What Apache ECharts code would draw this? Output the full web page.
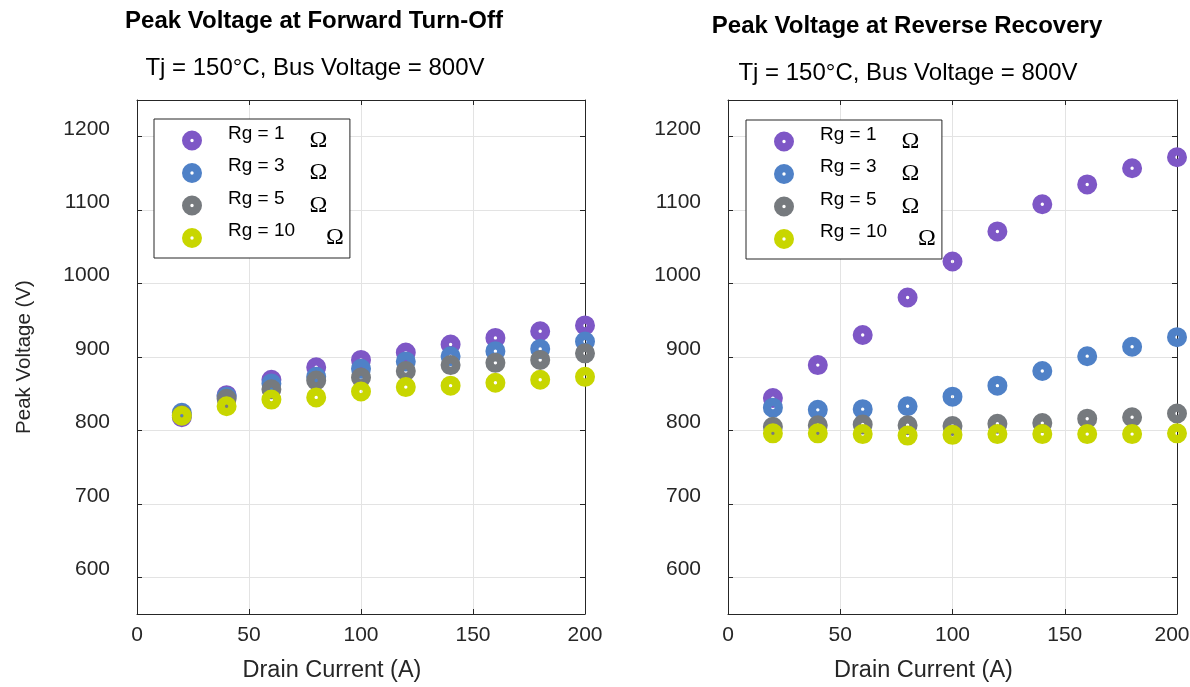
<!DOCTYPE html>
<html>
<head>
<meta charset="utf-8">
<script src="https://cdn.jsdelivr.net/npm/echarts@6/dist/echarts.min.js"></script>
<style>
  html, body { margin: 0; padding: 0; background: #fff; }
  #main { width: 1190px; height: 687px; }
</style>
</head>
<body>
<div id="main"></div>
<script>
  // drain current (A)
  const current = [20, 40, 60, 80, 100, 120, 140, 160, 180, 200];
  const gateRes = ['Rg = 1', 'Rg = 3', 'Rg = 5', 'Rg = 10'];
  const colors = ['#7e57c6', '#4f81c7', '#767a7e', '#c8d600'];

  // peak voltage at forward turn-off (V)
  const fwdRg1 = [818, 848, 869, 886, 896, 906, 917, 926, 935, 943];
  const fwdRg3 = [824, 846, 864, 873, 884, 894, 901, 908, 911, 921];
  const fwdRg5 = [821, 843, 856, 868, 872, 881, 889, 892, 896, 905];
  const fwdRg10 = [820, 833, 842, 845, 853, 859, 861, 865, 869, 873];

  // peak voltage at reverse recovery (V)
  const revRg1 = [844, 889, 930, 981, 1030, 1071, 1108, 1135, 1157, 1172];
  const revRg3 = [831, 828, 829, 833, 846, 861, 881, 901, 914, 927];
  const revRg5 = [805, 807, 808, 807, 806, 809, 810, 816, 818, 823];
  const revRg10 = [796, 796, 795, 793, 794, 795, 795, 795, 795, 796];

  const xTicks = [0, 50, 100, 150, 200];
  const yTicks = [600, 700, 800, 900, 1000, 1100, 1200];

  const font = 'Liberation Sans, Arial, sans-serif';
  const axisCol = '#262626';
  // filled disc with a small hole in the middle
  const ring = 'path://M10 0A10 10 0 1 1 10 20A10 10 0 1 1 10 0ZM10 8.3A1.7 1.7 0 1 0 10 11.7A1.7 1.7 0 1 0 10 8.3Z';

  function pairs(vals) {
    return current.map((c, i) => [c, vals[i]]);
  }

  function makeSeries(sets, axisIdx) {
    return sets.map((vals, i) => ({
      name: gateRes[i],
      type: 'scatter',
      xAxisIndex: axisIdx,
      yAxisIndex: axisIdx,
      symbol: ring,
      symbolSize: 20,
      itemStyle: { color: colors[i], opacity: 1 },
      emphasis: { disabled: true },
      data: pairs(vals)
    }));
  }

  function xAx(grid, pos, withLabels, squeezeLast) {
    return {
      type: 'value', gridIndex: grid, position: pos, min: 0, max: 200, interval: 50,
      axisLine: { show: true, onZero: false, lineStyle: { color: axisCol } },
      axisTick: { show: true, inside: true, length: 5, customValues: xTicks, lineStyle: { color: axisCol } },
      axisLabel: {
        show: withLabels, customValues: xTicks, fontFamily: font, fontSize: 21, color: axisCol, margin: 11,
        formatter: v => (squeezeLast && v === 200) ? '{m|200}' : String(v),
        rich: { m: { fontFamily: font, fontSize: 21, color: axisCol, padding: [0, 10, 0, 0] } }
      },
      splitLine: { show: withLabels, lineStyle: { color: '#e3e3e3' } },
      name: withLabels ? 'Drain Current (A)' : '',
      nameLocation: 'middle', nameGap: 45,
      nameTextStyle: { fontFamily: font, fontSize: 23.5, color: axisCol, padding: [0, 58, 0, 0] }
    };
  }

  function yAx(grid, pos, withLabels, title) {
    return {
      type: 'value', gridIndex: grid, position: pos, min: 550, max: 1250,
      axisLine: { show: true, onZero: false, lineStyle: { color: axisCol } },
      axisTick: { show: true, inside: true, length: 5, customValues: yTicks, lineStyle: { color: axisCol } },
      axisLabel: {
        show: withLabels, customValues: yTicks, formatter: v => String(v),
        fontFamily: font, fontSize: 21, color: axisCol, margin: 27,
        verticalAlign: 'bottom', lineHeight: 16
      },
      splitLine: { show: withLabels, lineStyle: { color: '#e3e3e3' } },
      name: title || '',
      nameLocation: 'middle', nameGap: 102,
      nameTextStyle: { fontFamily: font, fontSize: 20.5, color: axisCol }
    };
  }

  function legendAt(left, top) {
    return {
      left: left, top: top, orient: 'vertical',
      data: gateRes,
      icon: ring,
      backgroundColor: '#fff', borderColor: axisCol, borderWidth: 1,
      padding: [5, 6, 8, 28],
      itemWidth: 20, itemHeight: 20, itemGap: 4,
      selectedMode: false,
      formatter: name => '{t|' + name + '}' + (name === 'Rg = 10' ? '{o2|Ω}' : '{o|Ω}'),
      textStyle: {
        rich: {
          t: { fontFamily: font, fontSize: 19, color: '#000', lineHeight: 19, verticalAlign: 'top', padding: [0, 0, 0, 21] },
          o: { fontFamily: 'Liberation Serif, serif', fontSize: 24, color: '#000', lineHeight: 33, padding: [0, 0, 0, 25] },
          o2: { fontFamily: 'Liberation Serif, serif', fontSize: 24, color: '#000', lineHeight: 33, padding: [0, 0, 0, 31] }
        }
      }
    };
  }

  const chart = echarts.init(document.getElementById('main'));
  chart.setOption({
    animation: false,
    backgroundColor: '#fff',
    title: [
      { text: 'Peak Voltage at Forward Turn-Off', left: 309, top: 4, textAlign: 'center',
        textStyle: { fontFamily: font, fontSize: 24, fontWeight: 'bold', color: '#000' } },
      { text: 'Tj = 150°C, Bus Voltage = 800V', left: 310, top: 51, textAlign: 'center',
        textStyle: { fontFamily: font, fontSize: 24, fontWeight: 'normal', color: '#000' } },
      { text: 'Peak Voltage at Reverse Recovery', left: 902, top: 9, textAlign: 'center',
        textStyle: { fontFamily: font, fontSize: 24, fontWeight: 'bold', color: '#000' } },
      { text: 'Tj = 150°C, Bus Voltage = 800V', left: 903, top: 56, textAlign: 'center',
        textStyle: { fontFamily: font, fontSize: 24, fontWeight: 'normal', color: '#000' } }
    ],
    legend: [legendAt(154, 119), legendAt(746, 120)],
    grid: [
      { left: 137, top: 100, width: 448, height: 514, outerBoundsMode: 'none', containLabel: false },
      { left: 728, top: 100, width: 449, height: 514, outerBoundsMode: 'none', containLabel: false }
    ],
    xAxis: [xAx(0, 'bottom', true, false), xAx(0, 'top', false), xAx(1, 'bottom', true, true), xAx(1, 'top', false)],
    yAxis: [yAx(0, 'left', true, 'Peak Voltage (V)'), yAx(0, 'right', false), yAx(1, 'left', true), yAx(1, 'right', false)],
    series: [
      ...makeSeries([fwdRg1, fwdRg3, fwdRg5, fwdRg10], 0),
      ...makeSeries([revRg1, revRg3, revRg5, revRg10], 2)
    ]
  });
</script>
</body>
</html>
